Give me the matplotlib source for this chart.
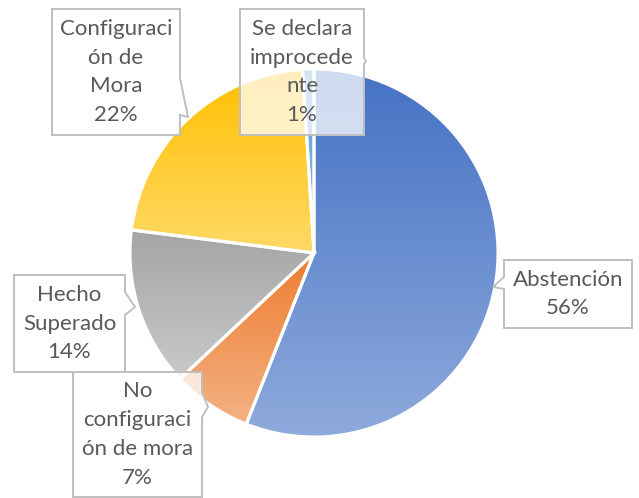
import numpy as np
import matplotlib.pyplot as plt
from matplotlib.patches import Polygon
from matplotlib.colors import LinearSegmentedColormap

plt.rcParams['font.family'] = ['Lato', 'DejaVu Sans']

W, H = 639, 498

labels = ['Abstención', 'No configuración de mora', 'Hecho Superado',
          'Configuración de Mora', 'Se declara improcedente']
values = [56, 7, 14, 22, 1]
# label text as wrapped in the chart
label_text = ['Abstención\n56%', 'No\nconfiguraci\nón de mora\n7%', 'Hecho\nSuperado\n14%',
              'Configuraci\nón de\nMora\n22%', 'Se declara\nimprocede\nnte\n1%']
top_colors = ['#4472C4', '#ED7D31', '#A5A5A5', '#FFC000', '#5B9BD5']
bottom_colors = ['#8FAADC', '#F4B183', '#C9C9C9', '#FFD966', '#9DC3E6']

TEXT_COLOR = '#595959'
BOX_EDGE = '#BFBFBF'

# callout boxes in pixel coords: (left, top, right, bottom), pointer (side, y0, y1, tip_x, tip_y)
boxes = [
    ((504, 260, 632, 328), ('left', 277, 289, 493, 287)),
    ((73, 372, 202, 497), ('right', 392, 417, 208, 407)),
    ((14, 275, 125, 372), ('right', 292, 315, 135, 307)),
    ((52, 9, 180, 135), ('right', 78, 115, 188, 117)),
    ((240, 9, 364, 135), ('right', 58, 64, 366, 61)),
]


def py(y):
    return H - y


fig = plt.figure(figsize=(W / 100, H / 100), dpi=100)
ax = fig.add_axes([0, 0, 1, 1])

wedges, _ = ax.pie(values, center=(314, py(253)), radius=184, startangle=90,
                   counterclock=False, frame=True,
                   wedgeprops=dict(edgecolor='white', linewidth=2.2))
ax.set_xlim(0, W)
ax.set_ylim(0, H)
ax.set_aspect('equal')
ax.axis('off')

grad = np.linspace(0, 1, 256).reshape(-1, 1)
for w, c0, c1 in zip(wedges, top_colors, bottom_colors):
    verts = w.get_patch_transform().transform(w.get_path().vertices)
    x0, y0 = verts.min(axis=0)
    x1, y1 = verts.max(axis=0)
    cmap = LinearSegmentedColormap.from_list('g', [c1, c0])
    im = ax.imshow(grad, cmap=cmap, extent=[x0, x1, y0, y1], origin='lower',
                   aspect='auto', zorder=1, interpolation='bilinear')
    im.set_clip_path(w)
    w.set_facecolor('none')
    w.set_zorder(2)

for (box, ptr), txt in zip(boxes, label_text):
    l, t, r, b = box
    side, p0, p1, tx, ty = ptr
    if side == 'right':
        pts = [(l, t), (r, t), (r, p0), (tx, ty), (r, p1), (r, b), (l, b)]
    else:
        pts = [(l, t), (r, t), (r, b), (l, b), (l, p1), (tx, ty), (l, p0)]
    pts = [(x, py(y)) for x, y in pts]
    ax.add_patch(Polygon(pts, closed=True, facecolor='white', alpha=0.75,
                         edgecolor='none', zorder=3))
    ax.add_patch(Polygon(pts, closed=True, facecolor='none',
                         edgecolor=BOX_EDGE, linewidth=1.4, zorder=4))
    ax.text((l + r) / 2, py((t + b) / 2), txt, ha='center', va='center',
            fontsize=16, color=TEXT_COLOR, linespacing=1.56, zorder=5)

fig.savefig('out.png', dpi=100, facecolor='white')
plt.close(fig)
